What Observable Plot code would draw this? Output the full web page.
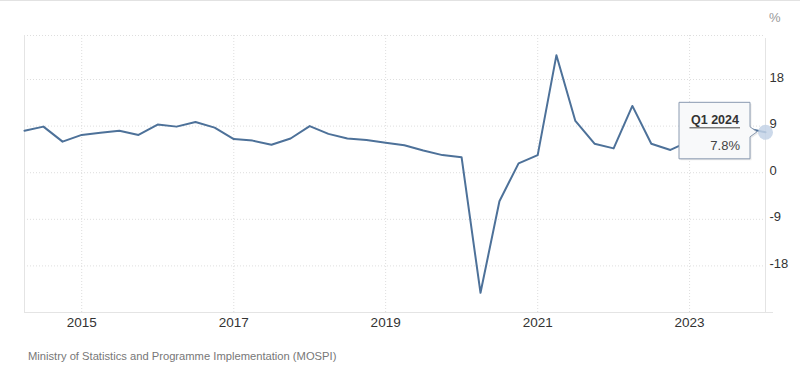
<!DOCTYPE html>
<html><head><meta charset="utf-8">
<script src="https://cdn.jsdelivr.net/npm/d3@7"></script>
<script src="https://cdn.jsdelivr.net/npm/@observablehq/plot@0.6"></script>
<style>
html,body{margin:0;padding:0;background:#fff;}
body{width:800px;height:379px;position:relative;overflow:hidden;font-family:"Liberation Sans",Arial,sans-serif;}
#topline{position:absolute;left:0;top:0;width:800px;height:1px;background:#e2e2e2;}
#caption{position:absolute;left:28px;top:349px;font-size:11.2px;color:#777;line-height:14px;white-space:nowrap;}
</style></head><body>
<div id="chart"></div>
<div id="caption"></div>
<div id="topline"></div>
<script>
const quarters = [
  "Q2 2014","Q3 2014","Q4 2014","Q1 2015","Q2 2015","Q3 2015","Q4 2015","Q1 2016",
  "Q2 2016","Q3 2016","Q4 2016","Q1 2017","Q2 2017","Q3 2017","Q4 2017","Q1 2018",
  "Q2 2018","Q3 2018","Q4 2018","Q1 2019","Q2 2019","Q3 2019","Q4 2019","Q1 2020",
  "Q2 2020","Q3 2020","Q4 2020","Q1 2021","Q2 2021","Q3 2021","Q4 2021","Q1 2022",
  "Q2 2022","Q3 2022","Q4 2022","Q1 2023","Q2 2023","Q3 2023","Q4 2023","Q1 2024"
];
const growth = [
  8.1, 8.9, 6.0, 7.3, 7.7, 8.1, 7.3, 9.3,
  8.9, 9.8, 8.7, 6.5, 6.2, 5.4, 6.6, 9.0,
  7.5, 6.6, 6.3, 5.8, 5.3, 4.3, 3.4, 3.0,
  -23.2, -5.5, 1.8, 3.4, 22.7, 10.0, 5.6, 4.7,
  12.9, 5.6, 4.4, 6.1, 8.2, 8.1, 8.6, 7.8
];
const yTicks = [-18, -9, 0, 9, 18];
const xTickYears = [2015, 2017, 2019, 2021, 2023];
const unitLabel = "%";
const sourceLabel = "Ministry of Statistics and Programme Implementation (MOSPI)";

document.getElementById("caption").textContent = sourceLabel;

function qDate(q) {
  const [qq, yr] = q.split(" ");
  return new Date(Date.UTC(+yr, (+qq[1] - 1) * 3, 1));
}
const data = quarters.map((q, i) => ({q, date: qDate(q), value: growth[i]}));
const xTicks = xTickYears.map(y => new Date(Date.UTC(y, 0, 1)));
const xDomain = [data[0].date, data[data.length - 1].date];
const yDomain = [-27, 26.5];
const last = data[data.length - 1];
const font = '"Liberation Sans", Arial, sans-serif';
const gridColor = "#dedede";
const frameColor = "#e4e4e4";

const chart = Plot.plot({
  width: 800, height: 338,
  marginTop: 35, marginBottom: 26, marginLeft: 24, marginRight: 35,
  style: {fontFamily: font, fontSize: "13px", color: "#333", background: "#fff", overflow: "visible"},
  x: {type: "utc", domain: xDomain},
  y: {domain: yDomain},
  marks: [
    Plot.ruleX(xTicks, {stroke: gridColor, strokeDasharray: "1,2"}),
    Plot.ruleY(yTicks, {stroke: gridColor, strokeDasharray: "1,2"}),
    Plot.ruleY([yDomain[1]], {stroke: gridColor, strokeDasharray: "1,2"}),
    Plot.ruleX([xDomain[0]], {stroke: frameColor}),
    Plot.ruleX([xDomain[1]], {stroke: frameColor, insetTop: 3}),
    Plot.ruleY([yDomain[0]], {stroke: frameColor, insetRight: -8}),
    Plot.axisX({ticks: xTicks, tickFormat: d3.utcFormat("%Y"), tickSize: 0, tickPadding: 5, label: null, fontSize: 13.5, fill: "#333"}),
    Plot.axisY({anchor: "right", ticks: yTicks, tickSize: 0, tickPadding: 4, label: null, dy: -2, tickFormat: d => String(d), fill: "#333"}),
    Plot.line(data, {x: "date", y: "value", stroke: "#4d7199", strokeWidth: 2}),
    Plot.dot([last], {x: "date", y: "value", r: 7.5, fill: "#c3d2e6", fillOpacity: 0.85}),
    Plot.text([unitLabel], {text: d => d, frameAnchor: "top-right", lineAnchor: "middle", dx: 15, dy: -18, fill: "#999", fontSize: 13})
  ]
});
document.getElementById("chart").appendChild(chart);

// tooltip annotation for last point, positioned through the plot's scales
const sx = chart.scale("x"), sy = chart.scale("y");
const px = sx.apply(last.date), py = sy.apply(last.value);
const L = px - 86, R = px - 15, T = py - 29.5, B = py + 27;
const svg = d3.select(chart);
const g = svg.append("g");
const tipPath = `M${L},${T}H${R}V${py - 5}L${px - 8},${py}L${R},${py + 5}V${B}H${L}Z`;
g.append("path").attr("d", tipPath).attr("transform", "translate(1.5,1.5)")
  .attr("fill", "rgba(0,0,0,0.08)");
g.append("path").attr("d", tipPath).attr("fill", "#f8f9fa").attr("stroke", "#8a9ab0").attr("stroke-width", 1);
const label = last.q;
g.append("text").attr("x", (L + R) / 2 + 0.5).attr("y", T + 22).attr("text-anchor", "middle")
  .attr("font-family", font).attr("font-size", 12.5).attr("font-weight", "bold").attr("fill", "#333").text(label);
g.append("line").attr("x1", L + 10.5).attr("x2", R - 10).attr("y1", T + 25.5).attr("y2", T + 25.5)
  .attr("stroke", "#444").attr("stroke-width", 1);
g.append("text").attr("x", R - 10).attr("y", T + 47.5).attr("text-anchor", "end")
  .attr("font-family", font).attr("font-size", 13).attr("fill", "#444").text(last.value.toFixed(1) + "%");
</script>
</body></html>
